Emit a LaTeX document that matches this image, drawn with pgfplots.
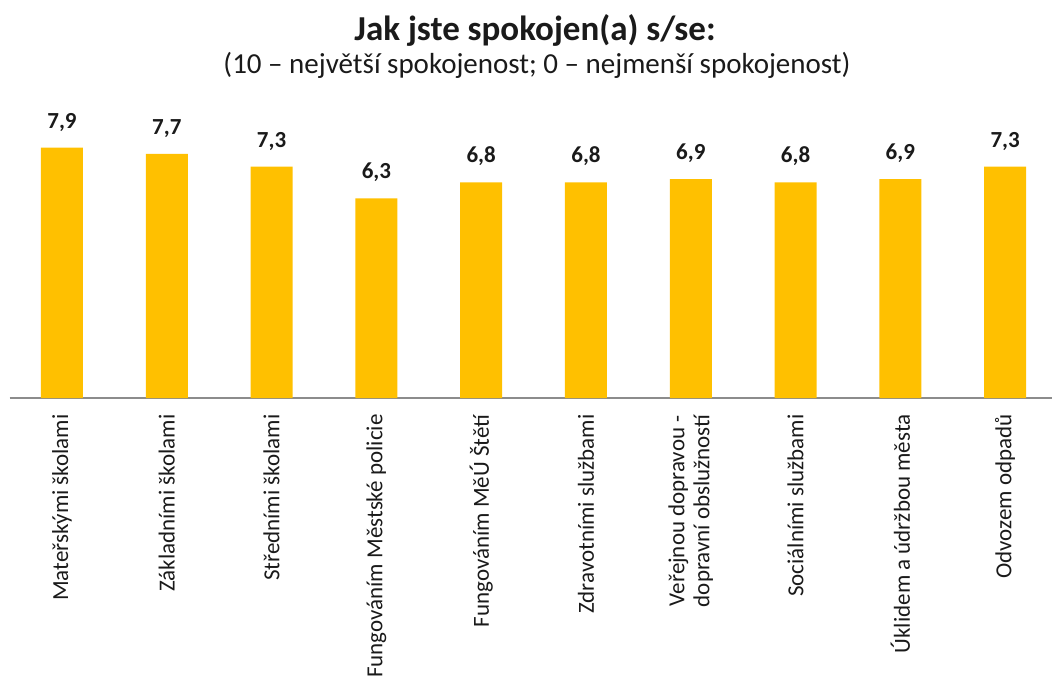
\documentclass[border=0pt]{standalone}
\usepackage{fontspec}
\setmainfont{Carlito}
\usepackage{pgfplots}
\pgfplotsset{compat=1.18}
\definecolor{barc}{HTML}{FFC000}
\definecolor{axc}{HTML}{8C8C8C}
\definecolor{txt}{HTML}{1A1A1A}
\begin{document}
\begin{tikzpicture}
\useasboundingbox (0,0) rectangle (526pt,349pt);
\begin{axis}[
  at={(4.8pt,150pt)}, anchor=south west,
  scale only axis, width=521.2pt, height=134.75pt,
  xmin=-0.5, xmax=9.447, ymin=0, ymax=8.5,
  hide y axis,
  axis x line*=bottom,
  x axis line style={draw=axc, line width=0.8pt},
  xtick={0,...,9},
  major tick length=0pt,
  xticklabels={Mateřskými školami, Základními školami, Středními školami, Fungováním Městské policie, Fungováním MěÚ Štětí, Zdravotními službami, {Veřejnou dopravou -\\dopravní obslužností}, Sociálními službami, Úklidem a údržbou města, Odvozem odpadů},
  xticklabel style={rotate=90, anchor=east, inner sep=0pt, align=center, font=\fontsize{11.5}{12.5}\selectfont, text=txt},
  xticklabel shift=8pt,
  ybar, bar width=21pt,
  clip=false,
  nodes near coords,
  nodes near coords style={font=\bfseries\fontsize{11.5}{13}\selectfont, text=txt, inner sep=0pt, yshift=8pt,
    /pgf/number format/.cd, fixed, fixed zerofill, precision=1, use comma, assume math mode=true},
]
\addplot[fill=barc, draw=none] coordinates {
 (0,7.9) (1,7.7) (2,7.3) (3,6.3) (4,6.8) (5,6.8) (6,6.9) (7,6.8) (8,6.9) (9,7.3)
};
\end{axis}
\node[font=\bfseries\fontsize{17.5}{19}\selectfont, text=txt] at (267.5pt,334pt) {Jak jste spokojen(a) s/se:};
\node[font=\fontsize{14.5}{16}\selectfont, text=txt] at (268.5pt,316.5pt) {(10 – největší spokojenost; 0 – nejmenší spokojenost)};
\end{tikzpicture}
\end{document}
